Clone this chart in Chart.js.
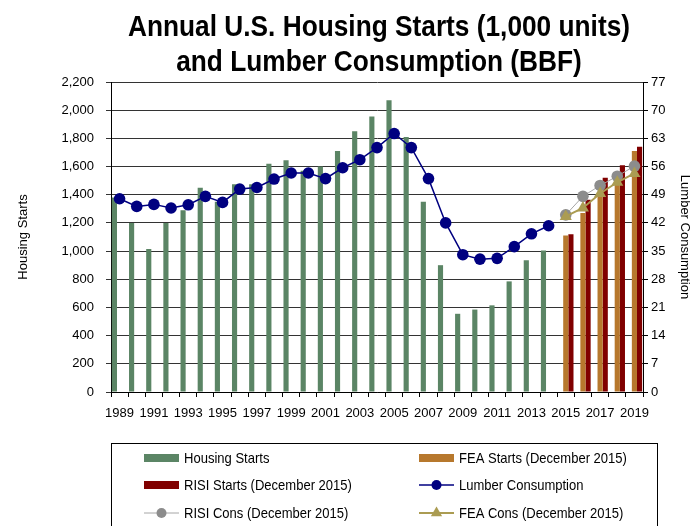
<!DOCTYPE html>
<html>
<head>
<meta charset="utf-8">
<title>Annual U.S. Housing Starts and Lumber Consumption</title>
<script src="https://cdn.jsdelivr.net/npm/chart.js"></script>
<style>
  body { margin: 0; background: #fff; }
  canvas { display: block; }
</style>
</head>
<body>
<canvas id="chart" width="694" height="526"></canvas>
<script>
const FONT = "'Liberation Sans', Arial, sans-serif";

const years = [1989, 1990, 1991, 1992, 1993, 1994, 1995, 1996, 1997, 1998, 1999, 2000, 2001,
  2002, 2003, 2004, 2005, 2006, 2007, 2008, 2009, 2010, 2011, 2012, 2013, 2014,
  2015, 2016, 2017, 2018, 2019];

// housing starts, 1,000 units (1989-2014)
const housingStarts = [1380, 1200, 1015, 1200, 1290, 1450, 1350, 1475, 1475, 1620, 1645, 1570, 1600,
  1710, 1850, 1955, 2070, 1810, 1350, 900, 555, 585, 615, 785, 935, 1005];
// forecasts 2015-2019
const feaStarts = [1110, 1270, 1420, 1540, 1710];
const risiStarts = [1120, 1365, 1520, 1610, 1740];

// lumber consumption, BBF (1989-2014)
const lumberCons = [48.0, 46.1, 46.6, 45.7, 46.5, 48.6, 47.1, 50.4, 50.8, 52.9, 54.4, 54.4, 53.0,
  55.7, 57.7, 60.7, 64.2, 60.7, 53.0, 42.0, 34.1, 33.0, 33.2, 36.1, 39.3, 41.3];
const risiCons = [44.0, 48.6, 51.3, 53.6, 56.1];
const feaCons = [43.6, 45.7, 49.3, 52.1, 54.3];

const leftTicks = { min: 0, max: 2200, step: 200 };
const rightTicks = { min: 0, max: 77, step: 7 };

const titleLines = ['Annual U.S. Housing Starts (1,000 units)', 'and Lumber Consumption (BBF)'];

// history goes in the first part of the year range, forecasts in the last part
const padHist = arr => arr.concat(new Array(years.length - arr.length).fill(null));
const padFcst = arr => new Array(years.length - arr.length).fill(null).concat(arr);

const datasets = [
  {
    type: 'bar', label: 'Housing Starts', data: padHist(housingStarts),
    backgroundColor: '#5b8565', yAxisID: 'y', order: 3
  },
  {
    type: 'bar', label: 'FEA Starts (December 2015)', data: padFcst(feaStarts),
    backgroundColor: '#b7782d', yAxisID: 'y', order: 3
  },
  {
    type: 'bar', label: 'RISI Starts (December 2015)', data: padFcst(risiStarts),
    backgroundColor: '#800000', yAxisID: 'y', order: 3
  },
  {
    type: 'line', label: 'Lumber Consumption', data: padHist(lumberCons),
    borderColor: '#000080', backgroundColor: '#000080', borderWidth: 1.5,
    pointStyle: 'circle', pointRadius: 5.8, pointBorderWidth: 0,
    yAxisID: 'y1', order: 2
  },
  {
    type: 'line', label: 'RISI Cons (December 2015)', data: padFcst(risiCons),
    borderColor: '#a6a6a6', backgroundColor: '#8c8c8c', borderWidth: 1,
    pointStyle: 'circle', pointRadius: 5.8, pointBorderWidth: 0,
    yAxisID: 'y1', order: 1
  },
  {
    type: 'line', label: 'FEA Cons (December 2015)', data: padFcst(feaCons),
    borderColor: '#ab9c52', backgroundColor: '#ab9c52', borderWidth: 2,
    pointStyle: 'triangle', pointRadius: 7, pointBorderWidth: 0,
    yAxisID: 'y1', order: 0
  }
];

// title centred over the plot area, squeezed horizontally to a narrow face
const plotTitle = {
  id: 'plotTitle',
  afterDraw(chart) {
    const { ctx, chartArea } = chart;
    const x = (chartArea.left + chartArea.right) / 2 + 2;
    ctx.save();
    ctx.font = 'bold 29px ' + FONT;
    const sx = 502 / ctx.measureText(titleLines[0]).width;
    ctx.translate(x, 0);
    ctx.scale(sx, 1);
    ctx.fillStyle = '#000';
    ctx.textAlign = 'center';
    ctx.textBaseline = 'middle';
    titleLines.forEach((t, i) => ctx.fillText(t, 0, 28 + i * 35));
    ctx.restore();
  }
};

// boxed two-column legend under the chart
const legendOrder = [[0, 1], [2, 3], [4, 5]];
const boxedLegend = {
  id: 'boxedLegend',
  afterDraw(chart) {
    const { ctx } = chart;
    const cols = [144, 419];
    const rows = [458, 485, 513];
    const symW = 35;
    ctx.save();
    ctx.strokeStyle = '#000';
    ctx.lineWidth = 1;
    ctx.strokeRect(111.5, 443.5, 546, 100);
    legendOrder.forEach((row, r) => {
      row.forEach((di, c) => {
        const ds = chart.data.datasets[di];
        const x = cols[c], y = rows[r];
        if (ds.type === 'bar') {
          ctx.fillStyle = ds.backgroundColor;
          ctx.fillRect(x, y - 4, symW, 8);
        } else {
          ctx.strokeStyle = ds.borderColor;
          ctx.lineWidth = ds.borderWidth;
          ctx.beginPath();
          ctx.moveTo(x, y);
          ctx.lineTo(x + symW, y);
          ctx.stroke();
          ctx.fillStyle = ds.backgroundColor;
          Chart.helpers.drawPoint(ctx, {
            pointStyle: ds.pointStyle,
            radius: ds.pointStyle === 'triangle' ? 6.5 : 5,
            rotation: 0,
            borderWidth: 0
          }, x + symW / 2, y);
        }
        // slightly condensed label text
        ctx.save();
        ctx.translate(x + symW + 5, y + 1);
        ctx.scale(0.88, 1);
        ctx.font = '14.8px ' + FONT;
        ctx.textBaseline = 'middle';
        ctx.textAlign = 'left';
        ctx.fillStyle = '#000';
        ctx.fillText(ds.label, 0, 0);
        ctx.restore();
      });
    });
    ctx.restore();
  }
};

const tickFont = { family: FONT, size: 13 };

new Chart(document.getElementById('chart'), {
  data: { labels: years, datasets: datasets },
  options: {
    responsive: false,
    animation: false,
    layout: { padding: { top: 82, bottom: 104, left: 0, right: 0 } },
    datasets: {
      bar: { categoryPercentage: 0.9, barPercentage: 1.0 }
    },
    plugins: {
      legend: { display: false },
      title: { display: false },
      tooltip: { enabled: false }
    },
    scales: {
      x: {
        offset: true,
        grid: { offset: true, drawOnChartArea: false, tickLength: 5, color: '#000' },
        border: { color: '#000', width: 1 },
        ticks: {
          autoSkip: false, maxRotation: 0, padding: 9,
          color: '#000', font: tickFont,
          callback: (v, i) => (i % 2 === 0 ? String(years[i]) : '')
        },
        afterFit: s => { s.height = 30; }
      },
      y: {
        position: 'left',
        min: leftTicks.min, max: leftTicks.max,
        grid: { color: '#333', lineWidth: 1, tickLength: 5 },
        border: { color: '#000', width: 1 },
        ticks: {
          stepSize: leftTicks.step, padding: 12, color: '#000', font: tickFont,
          callback: v => v.toLocaleString('en-US')
        },
        title: {
          display: true, text: 'Housing Starts', color: '#000',
          font: { family: FONT, size: 13 }, padding: { top: 16, bottom: 0 }
        },
        afterFit: s => { s.width = 111; }
      },
      y1: {
        position: 'right',
        min: rightTicks.min, max: rightTicks.max,
        grid: { drawOnChartArea: false, tickLength: 5, color: '#000' },
        border: { color: '#000', width: 1 },
        ticks: { stepSize: rightTicks.step, padding: 3, color: '#000', font: tickFont },
        title: {
          display: true, text: 'Lumber Consumption', color: '#000',
          font: { family: FONT, size: 13 }, padding: { top: 2, bottom: 0 }
        },
        afterFit: s => { s.width = 51; }
      }
    }
  },
  plugins: [plotTitle, boxedLegend]
});
</script>
</body>
</html>
